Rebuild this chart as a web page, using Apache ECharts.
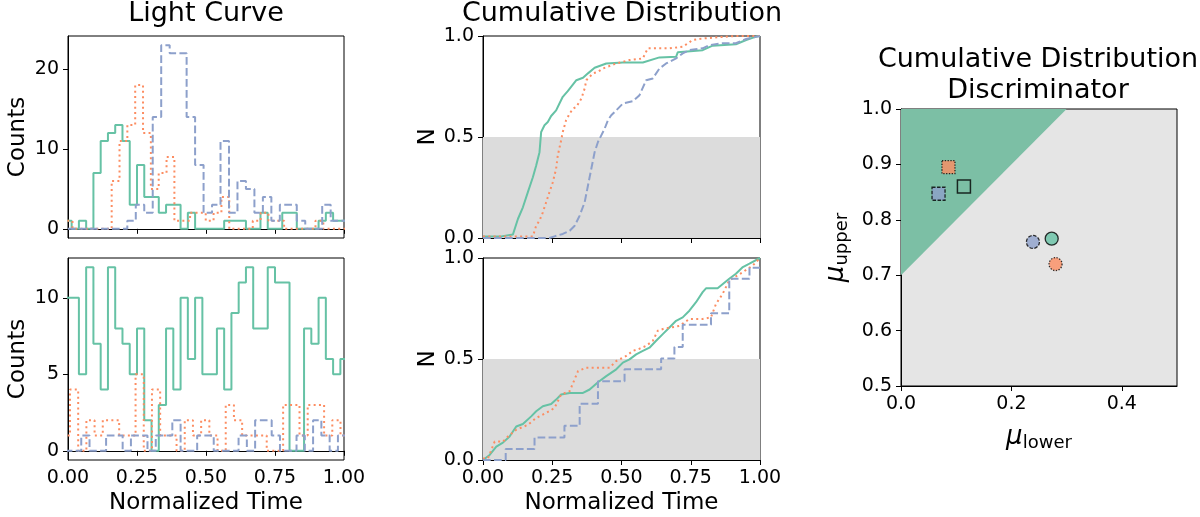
<!DOCTYPE html>
<html>
<head>
<meta charset="utf-8">
<script src="https://cdn.jsdelivr.net/npm/echarts@6.0.0/dist/echarts.min.js"></script>
<style>
html, body { margin: 0; padding: 0; background: #fff; }
#chart { width: 1200px; height: 517px; }
</style>
</head>
<body>
<div id="chart"></div>
<script>
// 颜色
const green = '#66c2a5', orange = '#fc8d62', blue = '#8da0cb';

// light curve histograms: [first bin edge, bin width] + counts per bin
const lcTopGreenBins = [-0.5 / 38, 1 / 38];
const lcTopGreen = [1, 0, 1, 0, 7, 11, 12, 13, 11, 3, 8, 4, 4, 2, 3, 3, 0, 2, 0, 0, 0, 0, 1, 1, 1, 0, 0, 2, 0, 0, 2, 2, 0, 0, 0, 1, 2, 1, 1];
const lcTopOrangeBins = [-0.01215, 0.0284];
const lcTopOrange = [1, 0, 0, 0, 0, 0, 6, 11, 13, 18, 12, 5, 7, 9, 1, 1, 2, 2, 1, 2, 4, 0, 0, 0, 1, 2, 1, 1, 0, 0, 0, 0, 1, 0, 0, 0];
const lcTopBlueBins = [0, 0.0307];
const lcTopBlue = [0, 0, 0, 0, 0, 0, 0, 1, 3, 2, 14, 23, 22, 22, 14, 8, 2, 3, 11, 2, 6, 5, 2, 4, 1, 3, 3, 1, 0, 0, 3, 1, 1];

const lcBotGreenBins = [-0.5 / 38, 1 / 38];
const lcBotGreen = [10, 10, 5, 12, 7, 4, 12, 8, 7, 5, 8, 2, 0, 3, 8, 4, 10, 6, 10, 5, 5, 8, 4, 9, 11, 12, 8, 8, 12, 11, 11, 0, 0, 8, 7, 10, 6, 5, 6];
const lcBotOrangeBins = [-0.0225, 0.0297];
const lcBotOrange = [1, 4, 0, 2, 1, 2, 2, 1, 1, 5, 0, 4, 1, 1, 0, 2, 1, 2, 1, 0, 3, 2, 1, 1, 1, 0, 0, 3, 3, 1, 3, 3, 1, 2, 1];
const lcBotBlueBins = [-0.012, 0.03];
const lcBotBlue = [0, 0, 1, 0, 0, 1, 1, 0, 1, 1, 0, 1, 1, 2, 0, 0, 1, 1, 0, 0, 0, 1, 0, 2, 2, 1, 0, 0, 1, 0, 2, 1, 0, 1];

// cumulative distributions: [normalized time, N]
const cdfTopGreen = [[0, 0.008], [0.066, 0.008], [0.069, 0.017], [0.108, 0.017], [0.126, 0.094], [0.144, 0.152], [0.162, 0.227], [0.180, 0.301], [0.192, 0.359], [0.204, 0.425], [0.210, 0.525], [0.222, 0.558], [0.234, 0.574], [0.246, 0.604], [0.264, 0.632], [0.276, 0.666], [0.288, 0.699], [0.306, 0.727], [0.318, 0.748], [0.337, 0.781], [0.361, 0.793], [0.379, 0.815], [0.403, 0.843], [0.445, 0.864], [0.505, 0.869], [0.577, 0.869], [0.637, 0.894], [0.697, 0.897], [0.703, 0.919], [0.793, 0.930], [0.829, 0.952], [0.913, 0.959], [0.950, 0.980], [0.986, 0.997], [1.0, 1.0]];
const cdfTopOrange = [[0, 0.008], [0.180, 0.008], [0.192, 0.061], [0.204, 0.086], [0.216, 0.127], [0.228, 0.177], [0.240, 0.227], [0.252, 0.276], [0.264, 0.343], [0.270, 0.409], [0.282, 0.483], [0.288, 0.525], [0.300, 0.583], [0.313, 0.616], [0.325, 0.641], [0.337, 0.649], [0.355, 0.690], [0.367, 0.740], [0.373, 0.781], [0.397, 0.815], [0.415, 0.823], [0.433, 0.839], [0.481, 0.864], [0.529, 0.881], [0.577, 0.889], [0.595, 0.939], [0.673, 0.939], [0.721, 0.947], [0.757, 0.980], [0.793, 0.988], [0.913, 1.0], [1.0, 1.0]];
const cdfTopBlue = [[0, 0], [0.240, 0], [0.258, 0.008], [0.288, 0.020], [0.313, 0.036], [0.331, 0.061], [0.349, 0.111], [0.367, 0.177], [0.379, 0.260], [0.391, 0.343], [0.403, 0.425], [0.415, 0.475], [0.427, 0.508], [0.439, 0.541], [0.451, 0.583], [0.463, 0.608], [0.481, 0.632], [0.505, 0.666], [0.541, 0.677], [0.565, 0.707], [0.589, 0.781], [0.613, 0.790], [0.637, 0.839], [0.661, 0.864], [0.697, 0.889], [0.721, 0.914], [0.745, 0.930], [0.793, 0.939], [0.817, 0.955], [0.865, 0.964], [0.913, 0.964], [0.950, 0.985], [1.0, 1.0]];

const cdfBotGreen = [[0, 0], [0.024, 0.025], [0.048, 0.066], [0.072, 0.086], [0.096, 0.116], [0.120, 0.166], [0.144, 0.178], [0.174, 0.216], [0.192, 0.241], [0.216, 0.266], [0.246, 0.277], [0.264, 0.299], [0.282, 0.324], [0.313, 0.332], [0.361, 0.332], [0.385, 0.349], [0.415, 0.385], [0.445, 0.415], [0.481, 0.449], [0.505, 0.482], [0.529, 0.498], [0.553, 0.523], [0.577, 0.540], [0.601, 0.556], [0.625, 0.590], [0.649, 0.623], [0.673, 0.656], [0.697, 0.689], [0.721, 0.706], [0.745, 0.739], [0.769, 0.781], [0.793, 0.831], [0.805, 0.850], [0.847, 0.850], [0.889, 0.897], [0.913, 0.922], [0.938, 0.955], [0.962, 0.972], [1.0, 1.0]];
const cdfBotOrange = [[0, 0.008], [0.018, 0.008], [0.042, 0.091], [0.072, 0.091], [0.090, 0.116], [0.120, 0.150], [0.162, 0.174], [0.192, 0.208], [0.228, 0.233], [0.258, 0.257], [0.282, 0.324], [0.313, 0.341], [0.343, 0.440], [0.373, 0.457], [0.457, 0.457], [0.481, 0.490], [0.517, 0.515], [0.541, 0.540], [0.565, 0.551], [0.589, 0.565], [0.613, 0.590], [0.631, 0.640], [0.655, 0.651], [0.679, 0.656], [0.709, 0.664], [0.745, 0.698], [0.793, 0.698], [0.823, 0.706], [0.841, 0.772], [0.865, 0.822], [0.889, 0.889], [0.938, 0.930], [0.974, 0.963], [1.0, 1.0]];
const cdfBotBlue = [[0, 0], [0.082, 0.055], [0.186, 0.111], [0.294, 0.169], [0.349, 0.279], [0.415, 0.390], [0.511, 0.449], [0.643, 0.503], [0.691, 0.560], [0.721, 0.669], [0.823, 0.726], [0.889, 0.897], [0.962, 0.952], [1.0, 0.952]];

// discriminator: [mu_lower, mu_upper]
const discBoundary = [[0, 0.7], [0.3, 1.0]];
const circleGreen = [0.273, 0.766], circleBlue = [0.239, 0.760], circleOrange = [0.280, 0.720];
const squareOrange = [0.086, 0.895], squareBlue = [0.068, 0.847], squareOpen = [0.114, 0.860];

// 柱状阶梯折线
function stepPoints(bins, counts) {
    const start = bins[0], width = bins[1];
    const pts = [[start, 0]];
    counts.forEach((c, i) => {
        pts.push([start + i * width, c]);
        pts.push([start + (i + 1) * width, c]);
    });
    pts.push([start + counts.length * width, 0]);
    return pts;
}

const font = 'DejaVu Sans';
const solid = 'solid', dotted = [2, 3.3], dashed = [7.7, 3.3];

function lineSeries(idx, data, color, type, extra) {
    return Object.assign({
        type: 'line', xAxisIndex: idx, yAxisIndex: idx, data: data,
        symbol: 'none', z: 3,
        lineStyle: {color: color, width: 2, type: type}
    }, extra || {});
}

const tick = {show: true, length: 5, lineStyle: {color: '#000', width: 1}};
const axisLine = {show: true, lineStyle: {color: '#000', width: 1}};
const label = {color: '#000', fontSize: 19, fontFamily: font, margin: 9};
const nameStyle = {color: '#000', fontSize: 23, fontFamily: font};
const titleFont = '27px "DejaVu Sans"';

const gridBox = {show: true, borderColor: '#000', borderWidth: 1, backgroundColor: 'transparent'};

let chart = echarts.init(document.getElementById('chart'));

let option = {
    animation: false,
    textStyle: {fontFamily: font},
    grid: [
        Object.assign({left: 68, top: 36, width: 276, height: 202}, gridBox),
        Object.assign({left: 68, top: 258, width: 276, height: 202}, gridBox),
        Object.assign({left: 483, top: 36, width: 277, height: 202}, gridBox),
        Object.assign({left: 483, top: 258, width: 277, height: 202}, gridBox),
        Object.assign({}, gridBox, {left: 901, top: 109, width: 276, height: 277, backgroundColor: '#e5e5e5'})
    ],
    xAxis: [0, 1, 2, 3].map(i => ({
        type: 'value', gridIndex: i, min: 0, max: 1, interval: 0.25,
        axisLine: axisLine, axisTick: tick, splitLine: {show: false},
        axisLabel: Object.assign({}, label, {show: i % 2 === 1, formatter: v => v.toFixed(2)}),
        name: i % 2 === 1 ? 'Normalized Time' : '',
        nameLocation: 'middle', nameGap: 32, nameTextStyle: nameStyle
    })).concat([{
        type: 'value', gridIndex: 4, min: 0, max: 0.5,
        axisLine: axisLine, splitLine: {show: false},
        axisTick: Object.assign({}, tick, {customValues: [0, 0.2, 0.4]}),
        axisLabel: Object.assign({}, label, {customValues: [0, 0.2, 0.4], formatter: v => v.toFixed(1)}),
        name: '{mu|μ}{sub|lower}', nameLocation: 'middle', nameGap: 36,
        nameTextStyle: {color: '#000', rich: {
            mu: {fontSize: 26, fontStyle: 'italic', fontFamily: font, color: '#000'},
            sub: {fontSize: 18, fontFamily: font, color: '#000', padding: [12, 0, 0, 0]}
        }}
    }]),
    yAxis: [
        {min: -1.15, max: 24.15, ticks: [0, 10, 20], name: 'Counts', fmt: v => String(v)},
        {min: -0.6, max: 12.6, ticks: [0, 5, 10], name: 'Counts', fmt: v => String(v)},
        {min: 0, max: 1, ticks: [0, 0.5, 1], name: 'N', fmt: v => v.toFixed(1)},
        {min: 0, max: 1, ticks: [0, 0.5, 1], name: 'N', fmt: v => v.toFixed(1)}
    ].map((a, i) => ({
        type: 'value', gridIndex: i, min: a.min, max: a.max,
        axisLine: axisLine, splitLine: {show: false},
        axisTick: Object.assign({}, tick, {customValues: a.ticks}),
        axisLabel: Object.assign({}, label, {customValues: a.ticks, formatter: a.fmt}),
        name: a.name, nameLocation: 'middle', nameRotate: 90,
        nameGap: i < 2 ? 38 : 40, nameTextStyle: nameStyle
    })).concat([{
        type: 'value', gridIndex: 4, min: 0.5, max: 1,
        axisLine: axisLine, splitLine: {show: false},
        axisTick: Object.assign({}, tick, {customValues: [0.5, 0.6, 0.7, 0.8, 0.9, 1.0]}),
        axisLabel: Object.assign({}, label, {customValues: [0.5, 0.6, 0.7, 0.8, 0.9, 1.0], formatter: v => v.toFixed(1)}),
        name: '{mu|μ}{sub|upper}', nameLocation: 'middle', nameRotate: 90, nameGap: 50,
        nameTextStyle: {color: '#000', rich: {
            mu: {fontSize: 26, fontStyle: 'italic', fontFamily: font, color: '#000'},
            sub: {fontSize: 18, fontFamily: font, color: '#000', padding: [12, 0, 0, 0]}
        }}
    }]),
    graphic: [
        {type: 'text', x: 206, y: 14, style: {text: 'Light Curve', font: titleFont, fill: '#000', align: 'center', verticalAlign: 'middle'}},
        {type: 'text', x: 622, y: 14, style: {text: 'Cumulative Distribution', font: titleFont, fill: '#000', align: 'center', verticalAlign: 'middle'}},
        {type: 'text', x: 1038, y: 60, style: {text: 'Cumulative Distribution', font: titleFont, fill: '#000', align: 'center', verticalAlign: 'middle'}},
        {type: 'text', x: 1038, y: 91, style: {text: 'Discriminator', font: titleFont, fill: '#000', align: 'center', verticalAlign: 'middle'}}
    ],
    series: [
        // 光变曲线
        lineSeries(0, stepPoints(lcTopGreenBins, lcTopGreen), green, solid),
        lineSeries(0, stepPoints(lcTopOrangeBins, lcTopOrange), orange, dotted),
        lineSeries(0, stepPoints(lcTopBlueBins, lcTopBlue), blue, dashed),
        lineSeries(1, stepPoints(lcBotGreenBins, lcBotGreen), green, solid),
        lineSeries(1, stepPoints(lcBotOrangeBins, lcBotOrange), orange, dotted),
        lineSeries(1, stepPoints(lcBotBlueBins, lcBotBlue), blue, dashed),
        // 灰色区域 N < 0.5
        lineSeries(2, [[0, 0.5], [1, 0.5]], '#dcdcdc', solid, {z: 1, lineStyle: {width: 0}, areaStyle: {color: '#dcdcdc', opacity: 1, origin: 'start'}}),
        lineSeries(3, [[0, 0.5], [1, 0.5]], '#dcdcdc', solid, {z: 1, lineStyle: {width: 0}, areaStyle: {color: '#dcdcdc', opacity: 1, origin: 'start'}}),
        // 累积分布
        lineSeries(2, cdfTopGreen, green, solid),
        lineSeries(2, cdfTopOrange, orange, dotted),
        lineSeries(2, cdfTopBlue, blue, dashed),
        lineSeries(3, cdfBotGreen, green, solid),
        lineSeries(3, cdfBotOrange, orange, dotted),
        lineSeries(3, cdfBotBlue, blue, dashed, {step: 'end'}),
        // 判别区域
        lineSeries(4, discBoundary, '#7cbfa5', solid, {z: 1, lineStyle: {width: 0}, areaStyle: {color: '#7cbfa5', opacity: 1, origin: 'end'}}),
        {
            type: 'scatter', xAxisIndex: 4, yAxisIndex: 4, z: 4, symbolSize: 13,
            data: [
                {value: circleGreen, symbol: 'circle', itemStyle: {color: green, borderColor: '#000', borderWidth: 1.3, borderType: 'solid'}},
                {value: circleBlue, symbol: 'circle', itemStyle: {color: blue, borderColor: '#000', borderWidth: 1.3, borderType: [3.5, 1.5]}},
                {value: circleOrange, symbol: 'circle', itemStyle: {color: orange, borderColor: '#000', borderWidth: 1.3, borderType: [1.3, 1.5]}},
                {value: squareOrange, symbol: 'rect', itemStyle: {color: orange, borderColor: '#000', borderWidth: 1.3, borderType: [1.3, 1.5]}},
                {value: squareBlue, symbol: 'rect', itemStyle: {color: blue, borderColor: '#000', borderWidth: 1.3, borderType: [3.5, 1.5]}},
                {value: squareOpen, symbol: 'rect', itemStyle: {color: 'rgba(0,0,0,0)', borderColor: '#000', borderWidth: 1.5, borderType: 'solid'}}
            ]
        }
    ]
};

chart.setOption(option);
</script>
</body>
</html>
